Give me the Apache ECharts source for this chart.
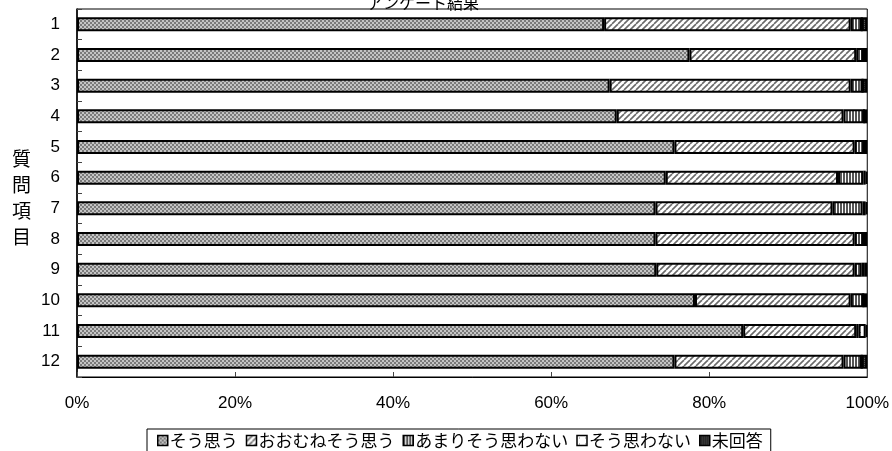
<!DOCTYPE html>
<html><head><meta charset="utf-8">
<script src="https://cdn.jsdelivr.net/npm/echarts@6/dist/echarts.min.js"></script>
<style>html,body{margin:0;padding:0;background:#fff}#c{width:892px;height:451px}</style>
</head><body><div id="c"></div>
<script>
const categories = ['1','2','3','4','5','6','7','8','9','10','11','12'];
const seriesNames = ['そう思う','おおむねそう思う','あまりそう思わない','そう思わない','未回答'];
const s1 = [66.7, 77.5, 67.4, 68.3, 75.6, 74.5, 73.2, 73.2, 73.3, 78.2, 84.3, 75.6];
const s2 = [31.2, 21.1, 30.5, 28.7, 22.8, 21.8, 22.4, 25.2, 25.1, 19.7, 14.3, 21.4];
const s3 = [1.4, 0.9, 1.5, 2.6, 1.2, 3.2, 3.8, 1.1, 0.9, 1.6, 0.3, 2.3];
const s4 = [0.0, 0.0, 0.0, 0.0, 0.0, 0.3, 0.4, 0.0, 0.4, 0.0, 0.9, 0.0];
const s5 = [0.7, 0.5, 0.6, 0.4, 0.4, 0.2, 0.2, 0.5, 0.3, 0.5, 0.2, 0.7];
const xTicks = [0, 20, 40, 60, 80, 100];

function pat(w, h, draw) {
  const c = document.createElement('canvas'); c.width = w; c.height = h;
  const g = c.getContext('2d'); draw(g); return { image: c, repeat: 'repeat' };
}
const p1 = pat(4, 4, g => { g.fillStyle = '#c4c4c4'; g.fillRect(0,0,4,4); g.fillStyle = '#7a7a7a'; g.fillRect(0,0,2,2); g.fillRect(2,2,2,2); });
const p2 = pat(6, 6, g => { g.fillStyle = '#fff'; g.fillRect(0,0,6,6); g.strokeStyle = '#6a6a6a'; g.lineWidth = 1.6;
  for (let k = -6; k <= 12; k += 6) { g.beginPath(); g.moveTo(k, 6); g.lineTo(k + 6, 0); g.stroke(); } });
const p3 = pat(3, 4, g => { g.fillStyle = '#fff'; g.fillRect(0,0,3,4); g.fillStyle = '#555'; g.fillRect(0,0,2,4); });
const p4 = pat(6, 6, g => { g.fillStyle = '#fff'; g.fillRect(0,0,6,6); g.fillStyle = '#888'; g.fillRect(2,2,1,1); });
const p5 = pat(2, 2, g => { g.fillStyle = '#222'; g.fillRect(0,0,2,2); g.fillStyle = '#555'; g.fillRect(0,0,1,1); });
const pats = [p1, p2, p3, p4, p5];
const data = [s1, s2, s3, s4, s5];

const chart = echarts.init(document.getElementById('c'));
const font = '"Noto Sans CJK JP", "Noto Sans", sans-serif';
const numFont = '"Liberation Sans", Arial, sans-serif';
chart.setOption({
  animation: false,
  textStyle: { fontFamily: font, color: '#000' },
  title: { text: 'アンケート結果', left: 362, top: -10, textStyle: { fontSize: 16, fontWeight: 'normal', color: '#000', fontFamily: font } },
  grid: { left: 77, right: 23, top: 9, bottom: 74, show: true, borderColor: '#000', borderWidth: 1 },
  xAxis: {
    type: 'value', min: 0, max: 100, interval: 20,
    axisLabel: { formatter: v => xTicks.includes(v) ? v + '%' : '', fontSize: 17, color: '#000', margin: 18, fontFamily: numFont },
    axisLine: { show: true, lineStyle: { color: '#000' } },
    axisTick: { show: true, inside: true, length: 5, lineStyle: { color: '#444' } },
    splitLine: { show: false }
  },
  yAxis: {
    type: 'category', data: categories, inverse: true,
    axisLabel: { fontSize: 17, color: '#000', margin: 17, fontFamily: numFont },
    axisLine: { show: true, lineStyle: { color: '#000', width: 1.5 } },
    axisTick: { show: true, inside: true, length: 5, lineStyle: { color: '#444' } }
  },
  legend: {
    top: 429, left: 147,
    padding: [3, 8, 8, 10],
    borderColor: '#000', borderWidth: 1, borderRadius: 0,
    itemWidth: 10, itemHeight: 10, itemGap: 8,
    icon: 'rect',
    itemStyle: { borderColor: '#000', borderWidth: 1.5 },
    textStyle: { fontSize: 17, color: '#000', fontFamily: font, padding: [0, 0, 0, -3] },
    data: seriesNames
  },
  graphic: [{
    type: 'text', left: 12, top: 146,
    style: { text: '質\n問\n項\n目', font: '19px ' + font, fill: '#000', lineHeight: 26 }
  }],
  series: seriesNames.map((n, i) => ({
    name: n, type: 'bar', stack: 'all', barWidth: 14, data: data[i],
    itemStyle: { color: pats[i], borderColor: '#000', borderWidth: 2 },
    emphasis: { disabled: true }
  }))
});
</script></body></html>
